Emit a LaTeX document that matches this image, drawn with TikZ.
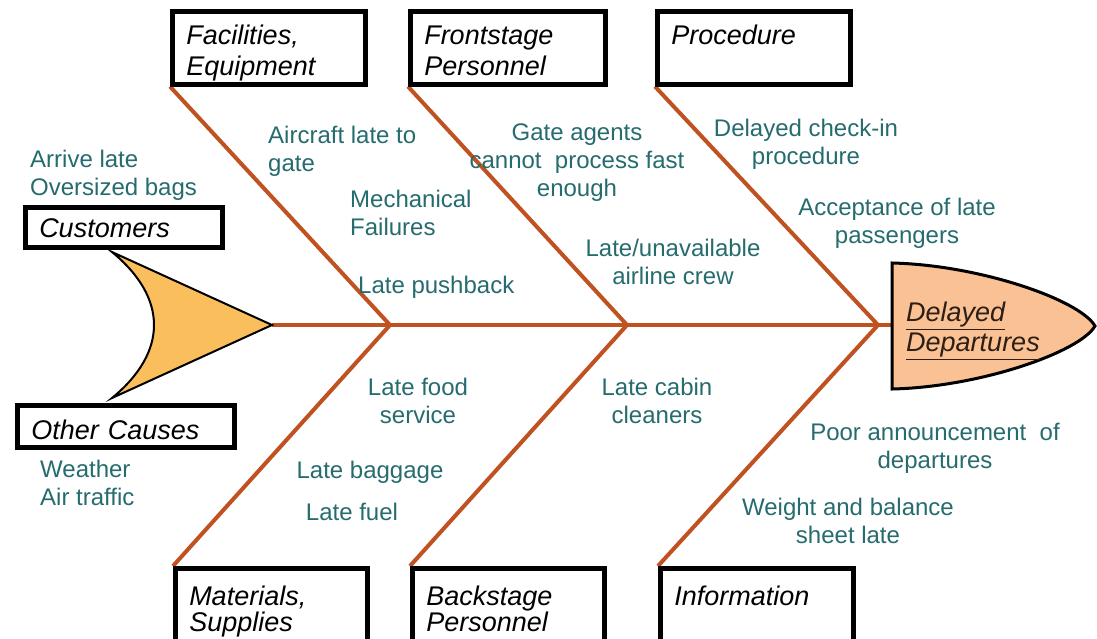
\documentclass[tikz,border=0pt]{standalone}
\usepackage{fontspec}
\setmainfont{Liberation Sans}
\usetikzlibrary{backgrounds}
\definecolor{bonecol}{RGB}{192,82,34}
\definecolor{causetxt}{RGB}{38,108,110}
\definecolor{tailfill}{RGB}{250,190,92}
\definecolor{headfill}{RGB}{250,194,148}
\definecolor{headtxt}{RGB}{45,30,22}
\begin{document}
\begin{tikzpicture}[x=1pt,y=-1pt,
  cause/.style={text=causetxt, font=\fontsize{24}{28}\selectfont, inner sep=0pt},
  catbox/.style={draw=black, line width=4.5pt, fill=white, anchor=north west,
    inner xsep=14pt, inner ysep=0pt, align=left,
    font=\fontsize{27}{31}\selectfont\itshape},
  lowbox/.style={catbox, font=\fontsize{27}{26}\selectfont\itshape},
  bone/.style={draw=bonecol, line width=4pt},
  outline/.style={draw=black, line width=2pt}]
\clip (0,0) rectangle (1097,638);

% category boxes
\node[catbox, text width=165pt, text height=33pt, text depth=40pt] (fac) at (170,9) {Facilities,\\Equipment};
\node[catbox, text width=167pt, text height=33pt, text depth=40pt] (front) at (408,9) {Frontstage\\Personnel};
\node[catbox, text width=165pt, text height=33pt, text depth=40pt] (proc) at (655,9) {Procedure};
\node[lowbox, text width=164pt, text height=37pt, text depth=50pt] (mat) at (173,566) {Materials,\\Supplies};
\node[lowbox, text width=164pt, text height=37pt, text depth=50pt] (back) at (410,566) {Backstage\\Personnel};
\node[lowbox, text width=165pt, text height=37pt, text depth=50pt] (info) at (658,566) {Information};
\node[catbox, text width=169pt, text height=30pt, text depth=10pt] (cust) at (23,205) {Customers};
\node[catbox, text width=189pt, text height=34pt, text depth=8pt] (other) at (15,403) {Other Causes};

% spine junctions and ends
\coordinate (tailtip) at (272,325);
\coordinate (j1) at (390,325);
\coordinate (j2) at (627,325);
\coordinate (j3) at (878,325);
\coordinate (headleft) at (892,325);

% fish tail
\draw[outline, fill=tailfill] (112,252) -- (tailtip) -- (112,398)
  .. controls (168,352) and (168,298) .. cycle;

% fish head
\draw[draw=black, line width=3pt, fill=headfill] (892,263)
  .. controls (980,265) and (1080,300) .. (1095,326)
  .. controls (1080,352) and (980,387) .. (892,389) -- cycle;
\node[anchor=west, align=left, text=headtxt, inner sep=0pt,
  font=\fontsize{27}{30}\selectfont\itshape] (effect) at (906,331)
  {\underline{Delayed}\\\underline{Departures}};

% spine and bones, behind the boxes
\begin{scope}[on background layer]
\fill[white] (0,0) rectangle (1097,638);
\draw[bone] (tailtip) -- (headleft);
\draw[bone] (fac.south west) -- (j1);
\draw[bone] (front.south west) -- (j2);
\draw[bone] (proc.south west) -- (j3);
\draw[bone] (j1) -- (mat.north west);
\draw[bone] (j2) -- (back.north west);
\draw[bone] (j3) -- (info.north west);
\end{scope}

% causes
\node[cause, anchor=west, align=left] (c1) at (30,175) {Arrive late\\Oversized bags};
\node[cause, anchor=west, align=left] (c2) at (40,483) {Weather\\Air traffic};
\node[cause, anchor=west, align=left] (c3) at (268,151) {Aircraft late to\\gate};
\node[cause, anchor=west, align=left] (c4) at (350,213) {Mechanical\\Failures};
\node[cause, anchor=west] (c5) at (358,287) {Late pushback};
\node[cause, align=center] (c6) at (577,163) {Gate agents\\cannot\ \ process fast\\enough};
\node[cause, align=center] (c7) at (673,262) {Late/unavailable\\airline crew};
\node[cause, align=center] (c8) at (806,144) {Delayed check-in\\procedure};
\node[cause, align=center] (c9) at (897,223) {Acceptance of late\\passengers};
\node[cause, align=center] (c10) at (418,401) {Late food\\service};
\node[cause, align=center] (c11) at (657,401) {Late cabin\\cleaners};
\node[cause] (c12) at (370,472) {Late baggage};
\node[cause] (c13) at (352,512) {Late fuel};
\node[cause, align=center] (c14) at (935,448) {Poor announcement\ \ of\\departures};
\node[cause, align=center] (c15) at (848,521) {Weight and balance\\sheet late};
\end{tikzpicture}
\end{document}
